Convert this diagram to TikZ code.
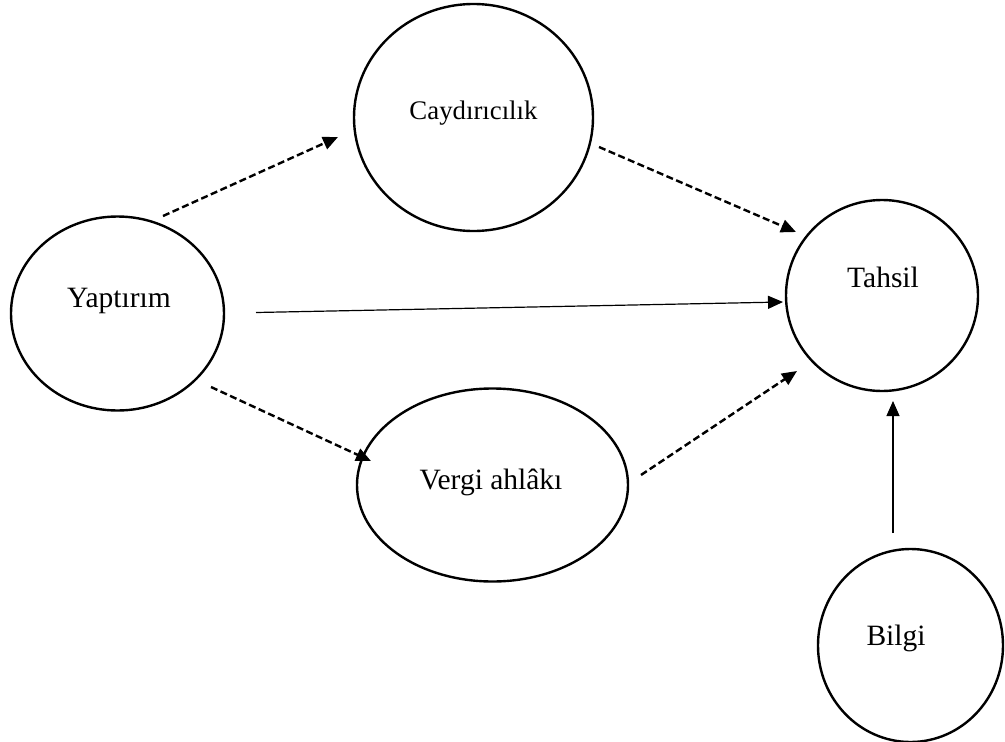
\documentclass[tikz,border=0pt]{standalone}
\usepackage{fontspec}
\setmainfont{Liberation Serif}
\usetikzlibrary{shapes.geometric,arrows.meta}
\begin{document}
\begin{tikzpicture}[x=1pt,y=-1pt,
  bubble/.style={draw, ellipse, line width=2.4pt, inner sep=0pt},
  lbl/.style={anchor=base, inner sep=0pt, font=\fontsize{29.5}{34}\selectfont},
  lblsmall/.style={anchor=base, inner sep=0pt, font=\fontsize{26.8}{32}\selectfont},
  dasharrow/.style={line width=2.4pt, dash pattern=on 7pt off 3.5pt, -{Triangle[length=15pt,width=13pt]}},
  solidarrow/.style={line width=1.2pt, -{Triangle[length=15pt,width=13pt]}}]
\useasboundingbox (0,0) rectangle (1005,742);
% bubbles
\node[bubble, minimum width=213pt, minimum height=194pt] (yap) at (117.5,313.5) {};
\node[bubble, minimum width=239pt, minimum height=227pt] (cay) at (473.5,117.5) {};
\node[bubble, minimum width=271pt, minimum height=193pt] (ver) at (492.5,485) {};
\node[bubble, minimum width=192pt, minimum height=191pt] (tah) at (882,295.5) {};
\node[bubble, minimum width=185pt, minimum height=193pt] (bil) at (910.5,645.5) {};
% labels
\node[lbl] (tyap) at (119,307.5) {Yaptırım};
\node[lblsmall] (tcay) at (473.5,119) {Caydırıcılık};
\node[lbl] (tver) at (491,489) {Vergi ahlâkı};
\node[lbl] (ttah) at (883,287) {Tahsil};
\node[lbl] (tbil) at (896,645) {Bilgi};
% connector ends
\coordinate (a1) at (163,216);
\coordinate (a2) at (338,137);
\coordinate (b1) at (599,147);
\coordinate (b2) at (796,232);
\coordinate (c1) at (256,312.5);
\coordinate (c2) at (783,302);
\coordinate (d1) at (211,387);
\coordinate (d2) at (371,461);
\coordinate (e1) at (641,475);
\coordinate (e2) at (797,371);
\coordinate (f1) at (893,533);
\coordinate (f2) at (893,401);
% connectors
\draw[dasharrow] (a1) -- (a2);
\draw[dasharrow] (b1) -- (b2);
\draw[solidarrow] (c1) -- (c2);
\draw[dasharrow] (d1) -- (d2);
\draw[dasharrow] (e1) -- (e2);
\draw[solidarrow] (f1) -- (f2);
\end{tikzpicture}
\end{document}
